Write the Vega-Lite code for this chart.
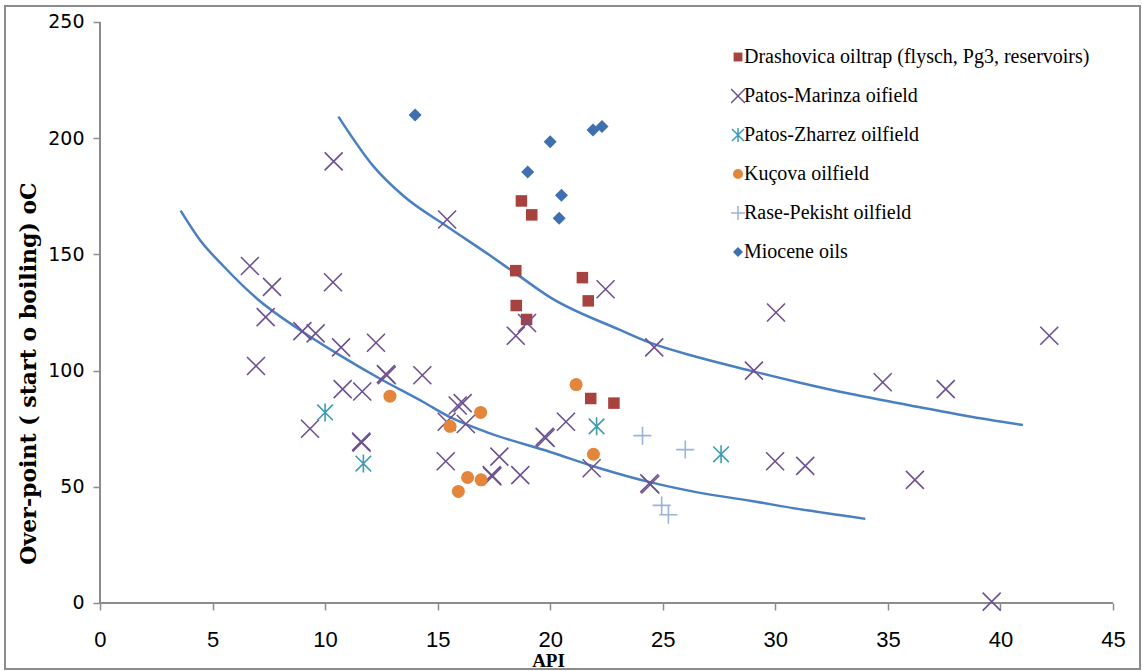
{
  "$schema": "https://vega.github.io/schema/vega-lite/v6.json",
  "width": 1135,
  "height": 663,
  "autosize": {"type": "none"},
  "padding": {"left": 5, "top": 6, "right": 3, "bottom": 2},
  "background": "white",
  "config": {
    "view": {"stroke": "#8c8c8c", "strokeWidth": 2},
    "legend": {
      "orient": "none",
      "legendX": 723,
      "legendY": 41,
      "padding": 0,
      "labelFont": "Liberation Serif",
      "labelFontSize": 20,
      "labelColor": "#000000",
      "labelLimit": 600,
      "labelOffset": -4,
      "symbolSize": 100,
      "symbolStrokeWidth": 1.5,
      "rowPadding": 19
    }
  },
  "datasets": {
    "pts": [
      {"series": "Drashovica oiltrap (flysch, Pg3, reservoirs)", "api": 18.72, "op": 173},
      {"series": "Drashovica oiltrap (flysch, Pg3, reservoirs)", "api": 19.18, "op": 167},
      {"series": "Drashovica oiltrap (flysch, Pg3, reservoirs)", "api": 18.47, "op": 143},
      {"series": "Drashovica oiltrap (flysch, Pg3, reservoirs)", "api": 21.43, "op": 140},
      {"series": "Drashovica oiltrap (flysch, Pg3, reservoirs)", "api": 21.69, "op": 130},
      {"series": "Drashovica oiltrap (flysch, Pg3, reservoirs)", "api": 18.49, "op": 128},
      {"series": "Drashovica oiltrap (flysch, Pg3, reservoirs)", "api": 18.95, "op": 122},
      {"series": "Drashovica oiltrap (flysch, Pg3, reservoirs)", "api": 21.8, "op": 88},
      {"series": "Drashovica oiltrap (flysch, Pg3, reservoirs)", "api": 22.83, "op": 86},
      {"series": "Patos-Marinza oifield", "api": 10.38, "op": 190},
      {"series": "Patos-Marinza oifield", "api": 15.42, "op": 165},
      {"series": "Patos-Marinza oifield", "api": 6.66, "op": 145},
      {"series": "Patos-Marinza oifield", "api": 7.64, "op": 136},
      {"series": "Patos-Marinza oifield", "api": 10.35, "op": 138},
      {"series": "Patos-Marinza oifield", "api": 7.36, "op": 123},
      {"series": "Patos-Marinza oifield", "api": 8.99, "op": 117},
      {"series": "Patos-Marinza oifield", "api": 9.58, "op": 116},
      {"series": "Patos-Marinza oifield", "api": 10.71, "op": 110},
      {"series": "Patos-Marinza oifield", "api": 12.26, "op": 112},
      {"series": "Patos-Marinza oifield", "api": 6.93, "op": 102},
      {"series": "Patos-Marinza oifield", "api": 12.74, "op": 98},
      {"series": "Patos-Marinza oifield", "api": 12.7, "op": 98.5},
      {"series": "Patos-Marinza oifield", "api": 14.32, "op": 98},
      {"series": "Patos-Marinza oifield", "api": 10.78, "op": 92},
      {"series": "Patos-Marinza oifield", "api": 11.65, "op": 91},
      {"series": "Patos-Marinza oifield", "api": 15.89, "op": 85},
      {"series": "Patos-Marinza oifield", "api": 16.11, "op": 86},
      {"series": "Patos-Marinza oifield", "api": 15.4, "op": 78},
      {"series": "Patos-Marinza oifield", "api": 16.25, "op": 77},
      {"series": "Patos-Marinza oifield", "api": 9.33, "op": 75},
      {"series": "Patos-Marinza oifield", "api": 11.62, "op": 69},
      {"series": "Patos-Marinza oifield", "api": 11.6, "op": 69.5},
      {"series": "Patos-Marinza oifield", "api": 15.36, "op": 61},
      {"series": "Patos-Marinza oifield", "api": 17.74, "op": 63},
      {"series": "Patos-Marinza oifield", "api": 17.43, "op": 54.5},
      {"series": "Patos-Marinza oifield", "api": 17.4, "op": 55},
      {"series": "Patos-Marinza oifield", "api": 18.67, "op": 55},
      {"series": "Patos-Marinza oifield", "api": 19.8, "op": 71},
      {"series": "Patos-Marinza oifield", "api": 19.75, "op": 71.5},
      {"series": "Patos-Marinza oifield", "api": 20.7, "op": 78},
      {"series": "Patos-Marinza oifield", "api": 21.84, "op": 58},
      {"series": "Patos-Marinza oifield", "api": 24.45, "op": 51},
      {"series": "Patos-Marinza oifield", "api": 24.4, "op": 51.5},
      {"series": "Patos-Marinza oifield", "api": 18.47, "op": 115},
      {"series": "Patos-Marinza oifield", "api": 18.97, "op": 120.5},
      {"series": "Patos-Marinza oifield", "api": 22.46, "op": 135},
      {"series": "Patos-Marinza oifield", "api": 24.62, "op": 110},
      {"series": "Patos-Marinza oifield", "api": 29.05, "op": 100},
      {"series": "Patos-Marinza oifield", "api": 30.03, "op": 125},
      {"series": "Patos-Marinza oifield", "api": 29.99, "op": 61},
      {"series": "Patos-Marinza oifield", "api": 31.33, "op": 59},
      {"series": "Patos-Marinza oifield", "api": 34.77, "op": 95},
      {"series": "Patos-Marinza oifield", "api": 37.57, "op": 92},
      {"series": "Patos-Marinza oifield", "api": 36.2, "op": 53},
      {"series": "Patos-Marinza oifield", "api": 39.61, "op": 0.6},
      {"series": "Patos-Marinza oifield", "api": 42.17, "op": 115},
      {"series": "Patos-Zharrez oilfield", "api": 10.0, "op": 82},
      {"series": "Patos-Zharrez oilfield", "api": 11.7, "op": 60},
      {"series": "Patos-Zharrez oilfield", "api": 22.06, "op": 76},
      {"series": "Patos-Zharrez oilfield", "api": 27.59, "op": 64},
      {"series": "Kuçova oilfield", "api": 12.88, "op": 89},
      {"series": "Kuçova oilfield", "api": 15.55, "op": 76},
      {"series": "Kuçova oilfield", "api": 16.91, "op": 82},
      {"series": "Kuçova oilfield", "api": 16.33, "op": 54},
      {"series": "Kuçova oilfield", "api": 16.93, "op": 53},
      {"series": "Kuçova oilfield", "api": 15.92, "op": 48},
      {"series": "Kuçova oilfield", "api": 21.15, "op": 94},
      {"series": "Kuçova oilfield", "api": 21.92, "op": 64},
      {"series": "Rase-Pekisht oilfield", "api": 24.1, "op": 72},
      {"series": "Rase-Pekisht oilfield", "api": 26.0, "op": 66},
      {"series": "Rase-Pekisht oilfield", "api": 24.95, "op": 42},
      {"series": "Rase-Pekisht oilfield", "api": 25.25, "op": 38},
      {"series": "Miocene oils", "api": 14.0, "op": 210},
      {"series": "Miocene oils", "api": 19.0, "op": 185.5},
      {"series": "Miocene oils", "api": 20.0, "op": 198.5},
      {"series": "Miocene oils", "api": 20.5, "op": 175.5},
      {"series": "Miocene oils", "api": 20.4, "op": 165.5},
      {"series": "Miocene oils", "api": 21.9, "op": 203.5},
      {"series": "Miocene oils", "api": 22.3, "op": 205}
    ],
    "curves": [
      {"curve": "low", "api": 3.58, "op": 168.8},
      {"curve": "low", "api": 4.44, "op": 156.2},
      {"curve": "low", "api": 5.48, "op": 145},
      {"curve": "low", "api": 7.03, "op": 130.5},
      {"curve": "low", "api": 8.88, "op": 117.5},
      {"curve": "low", "api": 10.59, "op": 107},
      {"curve": "low", "api": 12.44, "op": 96.5},
      {"curve": "low", "api": 14.36, "op": 86.5},
      {"curve": "low", "api": 15.55, "op": 80},
      {"curve": "low", "api": 17.33, "op": 73},
      {"curve": "low", "api": 20.0, "op": 65},
      {"curve": "low", "api": 22.2, "op": 58},
      {"curve": "low", "api": 24.43, "op": 52},
      {"curve": "low", "api": 26.6, "op": 47.5},
      {"curve": "low", "api": 28.88, "op": 44},
      {"curve": "low", "api": 31.0, "op": 40.5},
      {"curve": "low", "api": 33.32, "op": 37.2},
      {"curve": "low", "api": 34.0, "op": 36.2},
      {"curve": "high", "api": 10.59, "op": 209.3},
      {"curve": "high", "api": 12.14, "op": 188},
      {"curve": "high", "api": 13.5, "op": 175},
      {"curve": "high", "api": 15.42, "op": 162},
      {"curve": "high", "api": 17.33, "op": 149.5},
      {"curve": "high", "api": 18.51, "op": 141.5},
      {"curve": "high", "api": 20.0, "op": 131.5},
      {"curve": "high", "api": 23.1, "op": 117.5},
      {"curve": "high", "api": 24.43, "op": 112},
      {"curve": "high", "api": 26.65, "op": 105.5},
      {"curve": "high", "api": 28.88, "op": 100},
      {"curve": "high", "api": 31.0, "op": 95},
      {"curve": "high", "api": 33.32, "op": 90},
      {"curve": "high", "api": 36.0, "op": 85},
      {"curve": "high", "api": 38.5, "op": 80.5},
      {"curve": "high", "api": 41.0, "op": 76.6}
    ],
    "axislines": [
      {"api": 0, "op": 0, "api2": 45, "op2": 0},
      {"api": 0, "op": 0, "api2": 0, "op2": 250}
    ]
  },
  "encoding": {
    "x": {
      "field": "api",
      "type": "quantitative",
      "scale": {"domain": [-4.22, 46.2], "nice": false, "zero": false},
      "axis": {
        "orient": "bottom",
        "offset": -66,
        "values": [0, 5, 10, 15, 20, 25, 30, 35, 40, 45],
        "domain": false,
        "grid": false,
        "tickSize": 7,
        "tickWidth": 1.5,
        "tickColor": "#8c8c8c",
        "labelFont": "Liberation Sans",
        "labelFontSize": 22,
        "labelColor": "#000000",
        "labelPadding": 19,
        "labelFlush": false,
        "labelOverlap": false,
        "title": "API",
        "titleFont": "Liberation Serif",
        "titleFontWeight": "bold",
        "titleFontSize": 19,
        "titleColor": "#000000",
        "titleX": 543,
        "titleY": 63,
        "titleAlign": "center",
        "titleBaseline": "alphabetic"
      }
    },
    "y": {
      "field": "op",
      "type": "quantitative",
      "scale": {"domain": [-28.4, 256.88], "nice": false, "zero": false},
      "axis": {
        "orient": "left",
        "offset": -95,
        "values": [0, 50, 100, 150, 200, 250],
        "domain": false,
        "grid": false,
        "tickSize": 7,
        "tickWidth": 1.5,
        "tickColor": "#8c8c8c",
        "labelFont": "DejaVu Sans",
        "labelFontSize": 19,
        "labelColor": "#000000",
        "labelPadding": 9,
        "labelFlush": false,
        "labelOverlap": false,
        "title": "Over-point ( start o boiling) oC",
        "titleFont": "DejaVu Serif",
        "titleFontWeight": "bold",
        "titleFontSize": 22,
        "titleColor": "#000000",
        "titleAngle": -90,
        "titleX": -72,
        "titleY": 367,
        "titleAlign": "center",
        "titleBaseline": "middle"
      }
    }
  },
  "layer": [
    {
      "data": {"name": "axislines"},
      "mark": {"type": "rule", "color": "#8c8c8c", "strokeWidth": 2},
      "encoding": {
        "x2": {"field": "api2"},
        "y2": {"field": "op2"}
      }
    },
    {
      "data": {"name": "curves"},
      "mark": {"type": "line", "color": "#4a7fc1", "strokeWidth": 2.5, "interpolate": "monotone"},
      "encoding": {
        "detail": {"field": "curve", "type": "nominal"}
      }
    },
    {
      "data": {"name": "pts"},
      "mark": {"type": "point", "size": 169, "strokeWidth": 1.6, "opacity": 1},
      "encoding": {
        "fill": {
          "field": "series",
          "type": "nominal",
          "scale": {
            "domain": ["Drashovica oiltrap (flysch, Pg3, reservoirs)", "Patos-Marinza oifield", "Patos-Zharrez oilfield", "Kuçova oilfield", "Rase-Pekisht oilfield", "Miocene oils"],
            "range": ["#a8423e", "transparent", "transparent", "#e3853a", "transparent", "#3f6fae"]
          },
          "legend": {"title": null}
        },
        "stroke": {
          "field": "series",
          "type": "nominal",
          "scale": {
            "domain": ["Drashovica oiltrap (flysch, Pg3, reservoirs)", "Patos-Marinza oifield", "Patos-Zharrez oilfield", "Kuçova oilfield", "Rase-Pekisht oilfield", "Miocene oils"],
            "range": ["transparent", "#6d5190", "#3c9db3", "transparent", "#9cb3d9", "transparent"]
          },
          "legend": {"title": null}
        },
        "shape": {
          "field": "series",
          "type": "nominal",
          "scale": {
            "domain": ["Drashovica oiltrap (flysch, Pg3, reservoirs)", "Patos-Marinza oifield", "Patos-Zharrez oilfield", "Kuçova oilfield", "Rase-Pekisht oilfield", "Miocene oils"],
            "range": ["M-0.885,-0.885L0.885,-0.885L0.885,0.885L-0.885,0.885Z", "M-1.385,-1.385L1.385,1.385M-1.385,1.385L1.385,-1.385", "M-1.2,-1.2L1.2,1.2M-1.2,1.2L1.2,-1.2M0,-1.385L0,1.385", "circle", "M-1.385,0L1.385,0M0,-1.385L0,1.385", "diamond"]
          },
          "legend": {"title": null}
        }
      }
    }
  ]
}
